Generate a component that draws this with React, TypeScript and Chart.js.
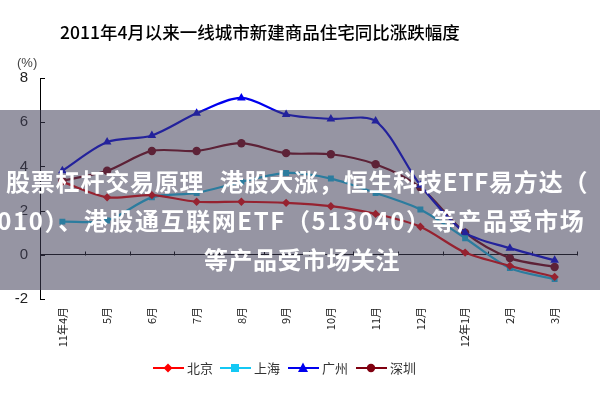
import React, { useEffect, useRef } from 'react';
import { Chart, registerables } from 'chart.js';

Chart.register(...registerables);

const categories = ['11年4月', '5月', '6月', '7月', '8月', '9月', '10月', '11月', '12月', '12年1月', '2月', '3月'];
const beijing = [3.3, 2.6, 2.7, 2.4, 2.4, 2.35, 2.2, 1.85, 1.27, 0.1, -0.5, -1.0];
const shanghai = [1.5, 1.55, 2.6, 2.8, 3.3, 3.7, 3.45, 2.8, 2.05, 0.75, -0.6, -1.1];
const guangzhou = [3.8, 5.1, 5.4, 6.4, 7.1, 6.35, 6.15, 6.05, 3.15, 1.0, 0.3, -0.25];
const shenzhen = [3.35, 3.8, 4.7, 4.7, 5.05, 4.6, 4.55, 4.1, 3.05, 1.0, -0.15, -0.55];
const seriesNames = ['北京', '上海', '广州', '深圳'];
const seriesColors = ['#ff0000', '#14c8f4', '#0000ee', '#800010'];
const seriesMarkers = ['rectRot', 'rect', 'triangle', 'circle'];
const yMin = -2;
const yMax = 8;
const yStep = 2;

const titleText = '2011年4月以来一线城市新建商品住宅同比涨跌幅度';
const unitText = '(%)';
const bannerLine1 = '股票杠杆交易原理 港股大涨，恒生科技ETF易方达（';
const bannerLine2 = '513010）、港股通互联网ETF（513040）等产品受市场';
const bannerLine3 = '等产品受市场关注';

const axisMarks = {
  id: 'axisMarks',
  beforeDatasetsDraw(chart: any) {
    const { ctx, scales } = chart;
    const x = scales.x;
    const y = scales.y;
    ctx.save();
    ctx.strokeStyle = '#000';
    ctx.lineWidth = 1;
    ctx.beginPath();
    y.ticks.forEach((t: any) => {
      const py = Math.round(y.getPixelForValue(t.value)) + 0.5;
      ctx.moveTo(x.left, py);
      ctx.lineTo(x.left + 5, py);
    });
    const y0 = Math.round(y.getPixelForValue(0)) + 0.5;
    for (let i = 0; i <= categories.length; i++) {
      const px = Math.round(x.getPixelForValue(i - 0.5)) + 0.5;
      ctx.moveTo(px, y0);
      ctx.lineTo(px, y0 - 4);
    }
    ctx.stroke();
    ctx.restore();
  },
};

function MarkerIcon({ kind, color }: { kind: string; color: string }) {
  let marker: React.ReactNode = null;
  if (kind === 'rectRot') marker = <polygon points="15,1.5 19.5,6 15,10.5 10.5,6" fill={color} />;
  else if (kind === 'rect') marker = <rect x={11} y={2} width={8} height={8} fill={color} />;
  else if (kind === 'triangle') marker = <polygon points="15,0.5 20,10 10,10" fill={color} />;
  else marker = <circle cx={15} cy={6} r={4.2} fill={color} />;
  return (
    <svg width={31} height={12} style={{ display: 'block' }}>
      <line x1={0} y1={6} x2={31} y2={6} stroke={color} strokeWidth={2} />
      {marker}
    </svg>
  );
}

export default function App() {
  const canvasRef = useRef<HTMLCanvasElement | null>(null);

  useEffect(() => {
    if (!canvasRef.current) return;
    const allData = [beijing, shanghai, guangzhou, shenzhen];
    const chart = new Chart(canvasRef.current, {
      type: 'line',
      data: {
        labels: categories,
        datasets: allData.map((d, i) => ({
          label: seriesNames[i],
          data: d,
          borderColor: seriesColors[i],
          backgroundColor: seriesColors[i],
          borderWidth: 2.2,
          pointStyle: seriesMarkers[i] as any,
          pointRadius: i === 2 ? 5 : 4.2,
          pointBorderWidth: 0,
          tension: 0.3,
          fill: false,
        })),
      },
      options: {
        responsive: false,
        animation: false,
        layout: { padding: { top: 78, left: 0, right: 23, bottom: 0 } },
        plugins: {
          legend: { display: false },
          title: { display: false },
          tooltip: { enabled: false },
        },
        scales: {
          x: {
            type: 'category',
            offset: true,
            grid: { display: false, drawTicks: false },
            border: { display: false },
            ticks: {
              minRotation: 90,
              maxRotation: 90,
              autoSkip: false,
              padding: 8,
              color: '#222',
              font: { family: '"Noto Sans CJK SC", "Liberation Sans", sans-serif', size: 11 },
            },
            afterFit: (scale: any) => {
              scale.height = 101;
            },
          },
          y: {
            min: yMin,
            max: yMax,
            ticks: {
              stepSize: yStep,
              padding: 12,
              color: '#222',
              font: { family: '"Liberation Sans", Arial, sans-serif', size: 15 },
            },
            grid: {
              drawTicks: false,
              color: (c: any) => (c.tick && c.tick.value === 0 ? '#000' : 'rgba(0,0,0,0)'),
              lineWidth: 1,
            },
            border: { display: true, color: '#000', width: 1 },
            afterFit: (scale: any) => {
              scale.width = 40;
            },
          },
        },
      },
      plugins: [axisMarks],
    });
    return () => chart.destroy();
  }, []);

  const legendLefts = [153, 220, 288, 356];

  return (
    <div style={{ position: 'absolute', left: 0, top: 0, width: 600, height: 400, background: '#fff', overflow: 'hidden' }}>
      <canvas ref={canvasRef} width={600} height={400} style={{ position: 'absolute', left: 0, top: 0, width: 600, height: 400 }} />
      <div
        style={{
          position: 'absolute',
          left: 60,
          top: 19,
          fontFamily: '"Noto Sans CJK SC", sans-serif',
          fontSize: 17.5,
          fontWeight: 500,
          lineHeight: '26px',
          color: '#000',
          whiteSpace: 'nowrap',
        }}
      >
        {titleText}
      </div>
      <div
        style={{
          position: 'absolute',
          left: 17,
          top: 55,
          fontFamily: '"Liberation Sans", Arial, sans-serif',
          fontSize: 13,
          lineHeight: '16px',
          color: '#444',
        }}
      >
        {unitText}
      </div>
      {seriesNames.map((name, i) => (
        <div
          key={name}
          style={{
            position: 'absolute',
            left: legendLefts[i],
            top: 360,
            height: 16,
            display: 'flex',
            alignItems: 'center',
            whiteSpace: 'nowrap',
          }}
        >
          <MarkerIcon kind={seriesMarkers[i]} color={seriesColors[i]} />
          <span
            style={{
              marginLeft: 3,
              fontFamily: '"Noto Sans CJK SC", sans-serif',
              fontSize: 13,
              lineHeight: '16px',
              color: '#333',
            }}
          >
            {name}
          </span>
        </div>
      ))}
      <div
        style={{
          position: 'absolute',
          left: 0,
          top: 110,
          width: 600,
          height: 180,
          background: 'rgba(64,62,88,0.55)',
          overflow: 'hidden',
          fontFamily: '"Noto Sans CJK SC", sans-serif',
          fontWeight: 700,
          fontSize: 24,
          color: '#fff',
          whiteSpace: 'nowrap',
        }}
      >
        <div style={{ position: 'absolute', left: 6, top: 52, lineHeight: '38px', letterSpacing: 0.8, wordSpacing: 9 }}>{bannerLine1}</div>
        <div style={{ position: 'absolute', left: -50, top: 91, lineHeight: '38px', letterSpacing: 1.6 }}>{bannerLine2}</div>
        <div style={{ position: 'absolute', left: 0, width: 604, top: 130, lineHeight: '38px', textAlign: 'center', letterSpacing: 0.5 }}>{bannerLine3}</div>
      </div>
    </div>
  );
}
